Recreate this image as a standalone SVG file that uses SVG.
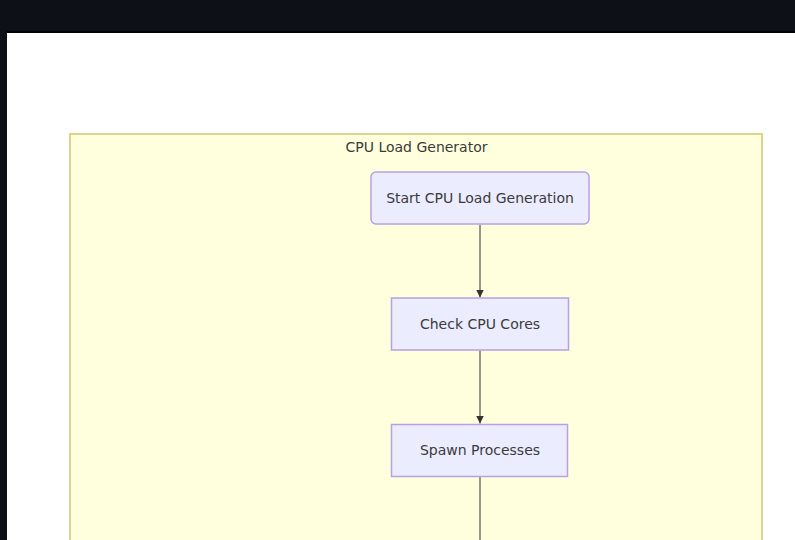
<svg xmlns="http://www.w3.org/2000/svg" width="795" height="540" viewBox="0 0 795 540">
<defs>
<style>
.bg{fill:#0d1117}
.cluster{fill:#ffffde;stroke:#d6d68e;stroke-width:2}
.node{fill:#ececff;stroke:#b6a0e6;stroke-width:1.5}
.lbl{font-family:"DejaVu Sans",sans-serif;font-size:14px;fill:#3a3a3a;text-anchor:middle;dominant-baseline:central}
.edge{stroke:#333;stroke-width:1;fill:none}
</style>
<marker id="arr" viewBox="0 0 10 10" refX="10" refY="5" markerWidth="8" markerHeight="8" markerUnits="userSpaceOnUse" orient="auto">
<path d="M0,0 L10,5 L0,10 z" fill="#333"/>
</marker>
</defs>
<rect class="bg" x="0" y="0" width="795" height="540"/>
<rect x="7" y="31" width="788" height="2" fill="#000"/>
<rect x="7" y="33" width="788" height="507" fill="#ffffff"/>
<g id="cluster-cpu">
<rect class="cluster" x="70" y="134" width="692" height="420"/>
<text class="lbl" x="416.5" y="147">CPU Load Generator</text>
</g>
<g id="edges">
<line class="edge" x1="480" y1="224.5" x2="480" y2="297.5" marker-end="url(#arr)"/>
<line class="edge" x1="480" y1="350.5" x2="480" y2="423.5" marker-end="url(#arr)"/>
<line class="edge" x1="480" y1="477" x2="480" y2="545"/>
</g>
<g id="node-start">
<rect class="node" x="371" y="172" width="218" height="52" rx="5" ry="5"/>
<text class="lbl" x="480" y="198">Start CPU Load Generation</text>
</g>
<g id="node-check">
<rect class="node" x="391.5" y="298" width="177" height="52"/>
<text class="lbl" x="480" y="324">Check CPU Cores</text>
</g>
<g id="node-spawn">
<rect class="node" x="391.5" y="424.5" width="176" height="52"/>
<text class="lbl" x="480" y="450">Spawn Processes</text>
</g>
</svg>
